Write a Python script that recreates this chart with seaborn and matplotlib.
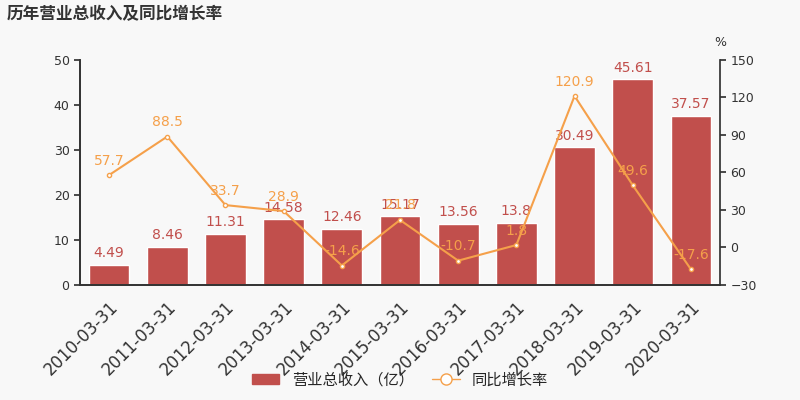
import matplotlib
matplotlib.use("Agg")
import matplotlib.pyplot as plt
import seaborn as sns
import pandas as pd
from matplotlib.lines import Line2D
from matplotlib.patches import Patch

dates = ["2010-03-31","2011-03-31","2012-03-31","2013-03-31","2014-03-31","2015-03-31",
         "2016-03-31","2017-03-31","2018-03-31","2019-03-31","2020-03-31"]
revenue = [4.49, 8.46, 11.31, 14.58, 12.46, 15.17, 13.56, 13.8, 30.49, 45.61, 37.57]
growth = [57.7, 88.5, 33.7, 28.9, -14.6, 21.8, -10.7, 1.8, 120.9, 49.6, -17.6]

sns.set_theme(style="white")
plt.rcParams['font.family'] = ['DejaVu Sans', 'Noto Sans CJK SC']
bg = "#f8f8f8"
bar_c = "#c14f4c"
line_c = "#f5a04a"

fig = plt.figure(figsize=(8, 4), dpi=100, facecolor=bg)
ax = fig.add_axes([0.1, 0.288, 0.8, 0.563], facecolor=bg)
df = pd.DataFrame({"date": dates, "rev": revenue, "g": growth})
sns.barplot(data=df, x="date", y="rev", color=bar_c, saturation=1, width=0.7, ax=ax)
ax.set_ylim(0, 50)
ax.set_yticks(range(0, 51, 10))
ax.set_xlabel(""); ax.set_ylabel("")
for i, v in enumerate(revenue):
    ax.text(i, v + 1, f"{v:g}", ha="center", va="bottom", color=bar_c, fontsize=10)
ax.tick_params(axis='x', labelsize=12, rotation=45, colors="#333333")
for lab in ax.get_xticklabels():
    lab.set_ha("right"); lab.set_rotation_mode("anchor")
ax.tick_params(axis='y', labelsize=9, colors="#333333", left=True, length=4)

ax2 = ax.twinx()
ax2.plot(range(len(dates)), growth, color=line_c, marker="o", markersize=3,
         markerfacecolor="white", lw=1.5)
ax2.set_ylim(-30, 150)
ax2.set_yticks(range(-30, 151, 30))
ax2.tick_params(axis='y', labelsize=9, colors="#333333", right=True, length=4)
for i, v in enumerate(growth):
    ax2.text(i, v + 6, f"{v:g}", ha="center", va="bottom", color=line_c, fontsize=10)
ax2.text(1.0, 1.06, "%", transform=ax2.transAxes, ha="center", fontsize=9, color="#333333")
ax.set_xlim(-0.5, len(dates) - 0.5)

for a in (ax, ax2):
    a.spines["top"].set_visible(False)
    for s in ["left", "right", "bottom"]:
        a.spines[s].set_color("#333333")
ax.spines["right"].set_visible(False)

fig.text(0.008, 0.965, "历年营业总收入及同比增长率", fontsize=12, fontweight="bold",
         color="#333333", va="center", family=['Noto Sans CJK SC'])
handles = [Patch(color=bar_c), Line2D([0], [0], color=line_c, marker="o", markersize=8,
                                      markerfacecolor="white", lw=1)]
fig.legend(handles, ["营业总收入（亿）", "同比增长率"], loc="lower center",
           bbox_to_anchor=(0.5, -0.005), ncol=2, frameon=False,
           prop={'family': ['Noto Sans CJK SC'], 'size': 11},
           handlelength=1.8, columnspacing=1.2)
fig.savefig("out.png", dpi=100, facecolor=bg)
